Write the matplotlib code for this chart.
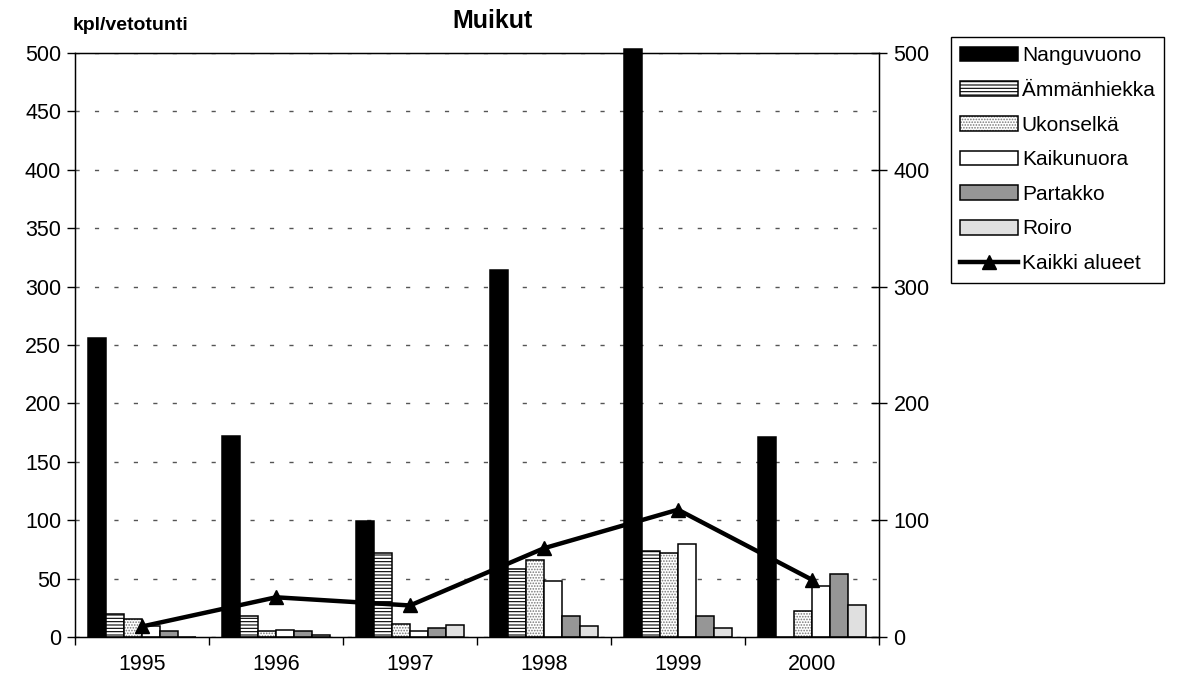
import numpy as np
import matplotlib
matplotlib.use('Agg')
import matplotlib.pyplot as plt
from matplotlib.lines import Line2D

plt.rcParams['font.family'] = ['Liberation Sans', 'DejaVu Sans']
plt.rcParams['hatch.linewidth'] = 0.8

years = ['1995', '1996', '1997', '1998', '1999', '2000']
nanguvuono = [256, 172, 99, 314, 503, 171]
ammanhiekka = [20, 18, 72, 58, 74, 0]
ukonselka = [15, 5, 11, 66, 72, 22]
kaikunuora = [9, 6, 5, 48, 80, 44]
partakko = [5, 5, 8, 18, 18, 54]
roiro = [0, 2, 10, 9, 8, 27]
kaikki_alueet = [9, 34, 27, 76, 109, 49]

labels = ['Nanguvuono', 'Ämmänhiekka', 'Ukonselkä', 'Kaikunuora', 'Partakko', 'Roiro', 'Kaikki alueet']

fig = plt.figure(figsize=(11.92, 6.82), dpi=100)
ax = fig.add_axes([75 / 1192, 1 - 637 / 682, 804 / 1192, 584 / 682])

x = np.arange(len(years))
w = 1 / 7.4
edge = dict(edgecolor='black', linewidth=1.1, clip_on=False)

b1 = ax.bar(x - 2.5 * w, nanguvuono, w, color='black', **edge)
b2 = ax.bar(x - 1.5 * w, ammanhiekka, w, color='white', hatch='-----', **edge)
# stipple in gray, outline drawn on top in black
b3a = ax.bar(x - 0.5 * w, ukonselka, w, color='white', hatch='......', edgecolor='#777777', linewidth=0)
b3b = ax.bar(x - 0.5 * w, ukonselka, w, fill=False, **edge)
b4 = ax.bar(x + 0.5 * w, kaikunuora, w, color='white', **edge)
b5 = ax.bar(x + 1.5 * w, partakko, w, color='#969696', **edge)
b6 = ax.bar(x + 2.5 * w, roiro, w, color='#e0e0e0', **edge)

ax.set_xlim(-0.5, len(years) - 0.5)
ax.set_ylim(0, 500)
ax.set_yticks(np.arange(0, 501, 50))
ax.set_xticks(x)
ax.set_xticklabels(years)
ax.set_xticks(np.arange(-0.5, len(years)), minor=True)
ax.tick_params(axis='x', which='major', length=0, pad=12, labelsize=15.5)
ax.tick_params(axis='x', which='minor', length=6, width=1, direction='out')
ax.tick_params(axis='y', length=6, width=1, direction='out', pad=4, labelsize=15.5)
ax.set_axisbelow(True)
ax.yaxis.grid(True, linestyle=(0, (3, 11)), color='#555555', linewidth=1)
for s in ax.spines.values():
    s.set_linewidth(1)

ax2 = ax.twinx()
ax2.plot(x, kaikki_alueet, color='black', linewidth=3.2, marker='^', markersize=10)
ax2.set_ylim(0, 500)
ax2.set_yticks(np.arange(0, 501, 100))
ax2.tick_params(axis='y', length=11, width=1, direction='inout', pad=5, labelsize=15.5)

fig.text(492 / 1192, 1 - 21 / 682, 'Muikut', ha='center', va='center', fontsize=18, fontweight='bold')
fig.text(73 / 1192, 1 - 26 / 682, 'kpl/vetotunti', ha='left', va='center', fontsize=14, fontweight='bold')

line_handle = Line2D([], [], color='black', linewidth=3.2, marker='^', markersize=10)
handles = [b1, b2, (b3a, b3b), b4, b5, b6, line_handle]
leg = fig.legend(handles, labels, loc='upper left', bbox_to_anchor=(951 / 1192, 1 - 37 / 682),
                 fontsize=15, frameon=True, fancybox=False, framealpha=1, edgecolor='black',
                 borderpad=0.45, labelspacing=0.75, handlelength=2.75, handleheight=0.7,
                 handletextpad=0.2, borderaxespad=0)
leg.get_frame().set_linewidth(1)

fig.savefig('out.png', dpi=100)
